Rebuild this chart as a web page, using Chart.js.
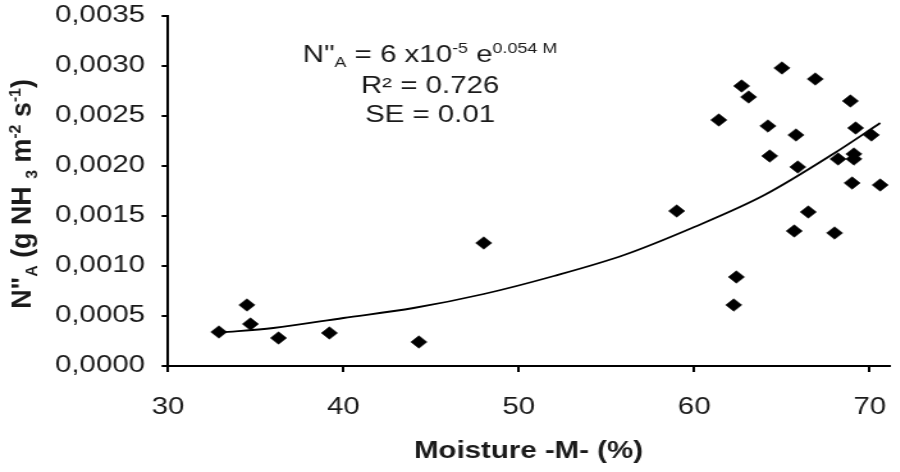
<!DOCTYPE html>
<html>
<head>
<meta charset="utf-8">
<script src="https://cdn.jsdelivr.net/npm/chart.js@4/dist/chart.umd.min.js"></script>
<style>
  html, body { margin: 0; padding: 0; background: #fff; overflow: hidden; }
  /* the original figure is stretched sideways, so draw narrow and scale it */
  #wrap {
    position: absolute; left: 0; top: 0;
    width: 703.125px; height: 472px;
    transform: scaleX(1.28); transform-origin: 0 0;
  }
</style>
</head>
<body>
<div id="wrap"><canvas id="nh3Chart"></canvas></div>
<script>
// measured points: moisture (%) and NH3 flux (g m-2 s-1)
const moisture = [32.9, 34.5, 34.7, 36.3, 39.2, 44.3, 48.0, 59.0, 61.4, 62.7,
                  63.1, 62.4, 62.25, 65.0, 64.2, 64.3, 65.8, 65.9, 65.7, 66.5,
                  66.9, 68.0, 68.2, 68.9, 69.2, 69.1, 69.1, 69.0, 70.1, 70.6];
const flux = [0.00034, 0.00061, 0.00042, 0.00028, 0.00033, 0.00024, 0.00123, 0.00155, 0.00246, 0.00280,
              0.00269, 0.00089, 0.00061, 0.00298, 0.00240, 0.00210, 0.00231, 0.00199, 0.00135, 0.00154,
              0.00287, 0.00133, 0.00207, 0.00265, 0.00238, 0.00212, 0.00207, 0.00183, 0.00231, 0.00181];

// fitted curve
const trendM = [33, 36, 40, 44, 48, 52, 56, 60, 64, 68, 70.6];
const trendN = [0.000335, 0.00038, 0.00048, 0.00058, 0.00072, 0.00090, 0.00111, 0.00139, 0.00171, 0.00213, 0.00243];

// axes
const xTicks = [30, 40, 50, 60, 70];
const yTicks = [0, 0.0005, 0.001, 0.0015, 0.002, 0.0025, 0.003, 0.0035];

const FONT = '"Liberation Sans", Arial, sans-serif';
const INK = '#1a1a1a';

// text with sub/superscripts: parts = [[text, "n"|"sub"|"sup"], ...]
function drawRich(ctx, parts, cx, y, size, small, weight) {
  const fontFor = p => `${weight} ${p[1] === 'n' ? size : small}px ${FONT}`;
  let total = 0;
  parts.forEach(p => { ctx.font = fontFor(p); total += ctx.measureText(p[0]).width; });
  let x = cx - total / 2;
  ctx.textAlign = 'left';
  ctx.textBaseline = 'alphabetic';
  parts.forEach(p => {
    ctx.font = fontFor(p);
    let dy = 0;
    if (p[1] === 'sub') dy = size * 0.25;
    if (p[1] === 'sup') dy = -size * 0.36;
    ctx.fillText(p[0], x, y + dy);
    x += ctx.measureText(p[0]).width;
  });
  return total;
}

const textPlugin = {
  id: 'texts',
  afterDraw(chart) {
    const ctx = chart.ctx;
    ctx.save();
    ctx.fillStyle = INK;

    // equation block
    drawRich(ctx, [['N"', 'n'], ['A', 'sub'], [' = 6 x10', 'n'], ['-5', 'sup'], [' e', 'n'], ['0.054 M', 'sup']],
      336, 61.5, 23, 14, 'normal');
    drawRich(ctx, [['R² = 0.726', 'n']], 336, 93, 23, 14, 'normal');
    drawRich(ctx, [['SE = 0.01', 'n']], 336, 121.5, 23, 14, 'normal');

    // y axis title, rotated
    ctx.translate(15.6, 194);
    ctx.rotate(-Math.PI / 2);
    ctx.scale(1.22, 1);
    drawRich(ctx, [['N"', 'n'], ['A', 'sub'], [' (g NH ', 'n'], ['3', 'sub'], [' m', 'n'], ['-2', 'sup'],
      [' s', 'n'], ['-1', 'sup'], [')', 'n']], 0, 8, 22, 13, 'bold');
    ctx.restore();
  }
};

const ctx = document.getElementById('nh3Chart').getContext('2d');
const nh3Chart = new Chart(ctx, {
  type: 'scatter',
  data: {
    datasets: [{
      label: 'NH3 flux',
      data: moisture.map((m, i) => ({ x: m, y: flux[i] })),
      pointStyle: 'rectRot',
      pointRadius: 6.3,
      pointBackgroundColor: '#000',
      pointBorderColor: '#000',
      pointBorderWidth: 0.5,
      order: 0
    }, {
      label: 'fit',
      data: trendM.map((m, i) => ({ x: m, y: trendN[i] })),
      showLine: true,
      borderColor: '#000',
      borderWidth: 1.8,
      pointRadius: 0,
      tension: 0.4,
      cubicInterpolationMode: 'monotone',
      order: 1
    }]
  },
  options: {
    responsive: true,
    maintainAspectRatio: false,
    animation: false,
    layout: { autoPadding: false, padding: { left: 41, right: 8.6, top: 16, bottom: 0 } },
    plugins: { legend: { display: false }, tooltip: { enabled: false } },
    scales: {
      x: {
        min: 30,
        max: 71.1,
        afterBuildTicks: axis => { axis.ticks = xTicks.map(v => ({ value: v })); },
        afterFit: axis => {
          axis.height = 106;
          axis.paddingLeft = 0;
          axis.paddingRight = 0;
        },
        grid: { display: true, drawOnChartArea: false, drawTicks: true, tickLength: 6, color: '#000', lineWidth: 2 },
        border: { display: true, color: '#000', width: 2 },
        ticks: { color: INK, font: { family: FONT, size: 23 }, padding: 22, maxRotation: 0 },
        title: {
          display: true,
          text: 'Moisture -M- (%)',
          color: INK,
          font: { family: FONT, size: 23, weight: 'bold' },
          padding: { top: 0, bottom: 7 }
        }
      },
      y: {
        min: 0,
        max: 0.0035,
        afterBuildTicks: axis => { axis.ticks = yTicks.map(v => ({ value: v })); },
        afterFit: axis => {
          axis.width = 90.25;
          axis.paddingTop = 0;
          axis.paddingBottom = 0;
        },
        grid: { display: true, drawOnChartArea: false, drawTicks: true, tickLength: 5, color: '#000', lineWidth: 2 },
        border: { display: true, color: '#000', width: 2 },
        ticks: {
          color: INK,
          font: { family: FONT, size: 23 },
          padding: 13,
          callback: v => v.toFixed(4).replace('.', ',')
        }
      }
    }
  },
  plugins: [textPlugin]
});
</script>
</body>
</html>
